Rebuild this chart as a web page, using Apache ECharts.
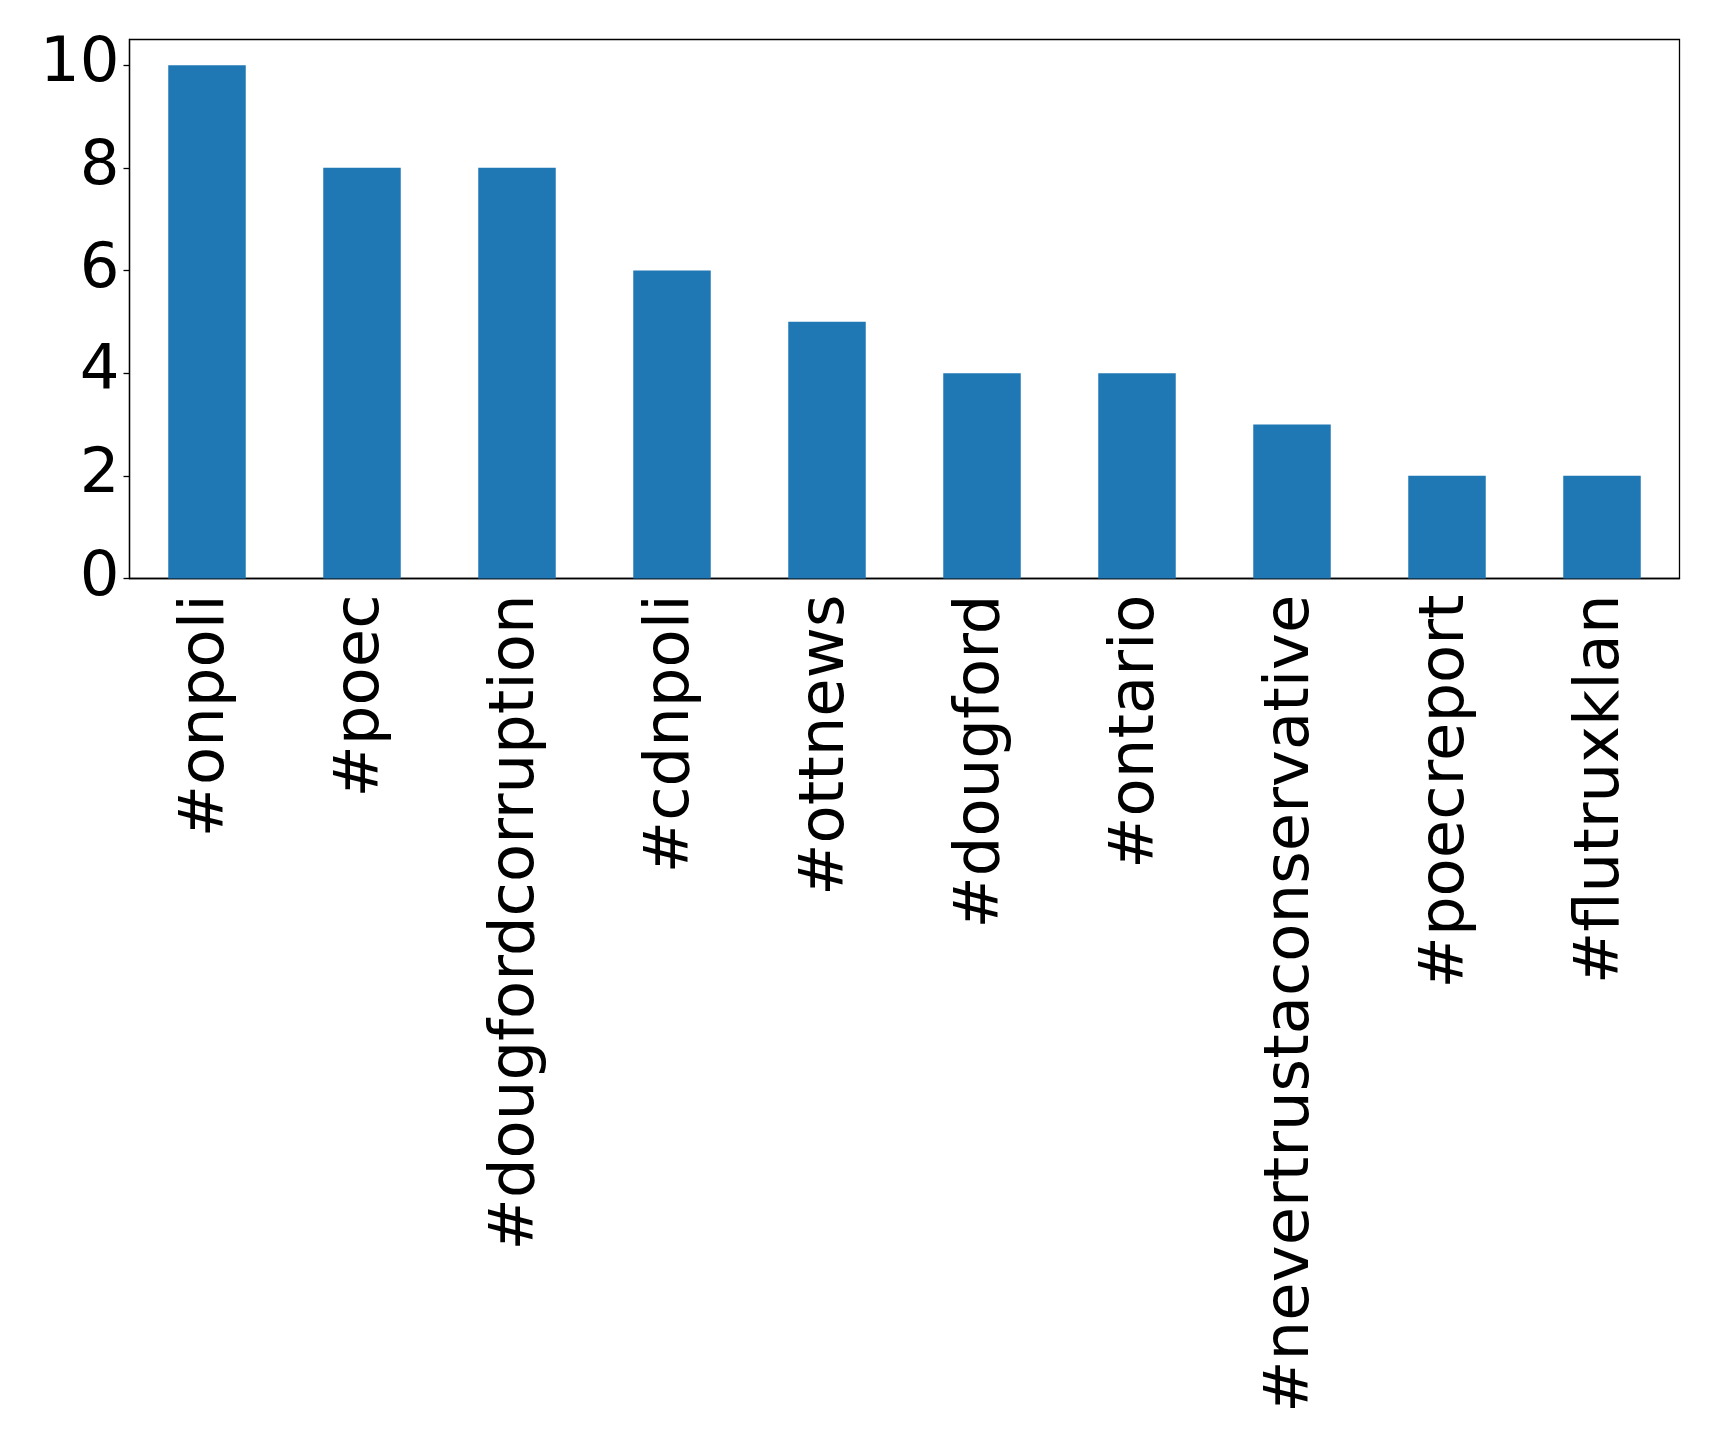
<!DOCTYPE html>
<html><head><meta charset="utf-8">
<script src="https://cdn.jsdelivr.net/npm/echarts@6/dist/echarts.min.js"></script>
<style>html,body{margin:0;padding:0;background:#fff}#c{width:1719px;height:1446px}</style>
</head><body><div id="c"></div>
<script>
const categories = ['#onpoli','#poec','#dougfordcorruption','#cdnpoli','#ottnews','#dougford','#ontario','#nevertrustaconservative','#poecreport','#flutruxklan'];
const counts = [10,8,8,6,5,4,4,3,2,2];
const yTicks = {min:0, max:10.5, interval:2};
const chart = echarts.init(document.getElementById('c'), null, {renderer:'canvas'});
const font = 'DejaVu Sans';
chart.setOption({
  animation:false,
  backgroundColor:'#fff',
  grid:{left:129.5, right:39.5, top:39.5, height:539, show:true, borderColor:'#000', borderWidth:1.3, backgroundColor:'transparent'},
  xAxis:{type:'category', data:categories, boundaryGap:true,
    axisLine:{lineStyle:{color:'#000', width:1.3}},
    axisTick:{alignWithLabel:true, length:6, lineStyle:{color:'#000', width:1.3}},
    axisLabel:{rotate:90, color:'#000', fontFamily:font, fontSize:62.5, margin:16, interval:0}},
  yAxis:{type:'value', min:yTicks.min, max:yTicks.max, interval:yTicks.interval,
    splitLine:{show:false},
    axisLine:{show:true, lineStyle:{color:'#000', width:1.3}},
    axisTick:{show:true, length:6, lineStyle:{color:'#000', width:1.3}},
    axisLabel:{color:'#000', fontFamily:font, fontSize:62.5, margin:10, showMaxLabel:false}},
  series:[{type:'bar', data:counts, barWidth:'50%', itemStyle:{color:'#1f77b4'}}]
});
</script></body></html>
